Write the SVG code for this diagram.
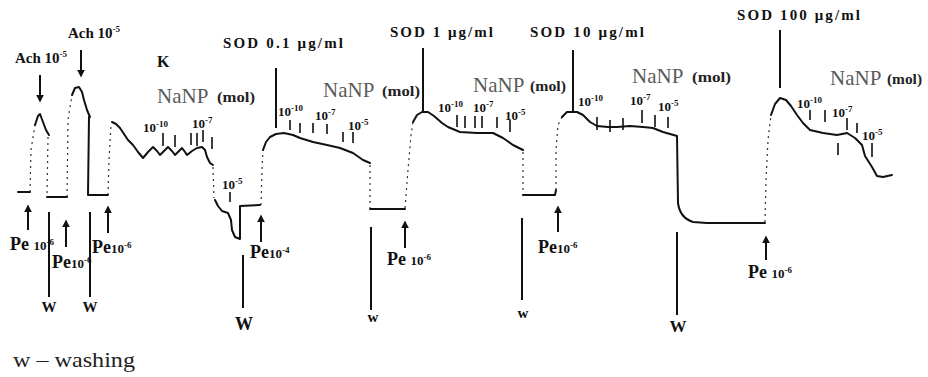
<svg xmlns="http://www.w3.org/2000/svg" width="928" height="377" viewBox="0 0 928 377">
<style>
.b{font-family:"Liberation Serif","Times New Roman",serif;font-weight:bold;fill:#111}
.n{font-family:"Liberation Serif","Times New Roman",serif;fill:#5a5a5a;font-size:21px}
.m{font-family:"Liberation Serif","Times New Roman",serif;font-weight:bold;fill:#222;font-size:15px}
.sod{font-size:15px}
.ex{font-size:13px}
.pe{font-size:18px}
.s{font-size:9px}
.tr{fill:none;stroke:#111;stroke-width:2;stroke-linejoin:round;stroke-linecap:round}
.dt{fill:none;stroke:#333;stroke-width:1.2;stroke-dasharray:2 4}
.tk{stroke:#111;stroke-width:1.6}
.vl{stroke:#111;stroke-width:2}
.ar{stroke:#111;stroke-width:2;marker-end:url(#ah)}
</style>
<defs>
<marker id="ah" viewBox="0 0 10 10" refX="8" refY="5" markerWidth="4" markerHeight="4" orient="auto" markerUnits="strokeWidth">
<path d="M0 0 L10 5 L0 10 z" fill="#111"/>
</marker>
</defs>
<rect width="928" height="377" fill="#fff"/>

<g id="traces">
<path class="tr" d="M18 192 L30 192"/>
<path class="dt" d="M30 192 L31 150 L35 125"/>
<path class="tr" d="M35 125 L38 116 L40 114 L43 122 L46 130 L49 135"/>
<path class="dt" d="M48 137 L47 197"/>
<path class="tr" d="M47 197 L67 197"/>
<path class="dt" d="M67 197 L68 120 L72 95"/>
<path class="tr" d="M72 95 L75 88 L79 87 L82 92 L84 100 L87 110 L90 117"/>
<path class="tr" d="M89 117 L88 195 L108 195"/>
<path class="dt" d="M108 195 L109 160 L111 125"/>
<path class="tr" d="M112 122 L116 124 L120 128 L124 134 L128 140 L133 145 L138 152 L143 158 L148 152 L153 147 L157 151 L160 155 L164 151 L168 147 L172 151 L175 155 L179 151 L182 148 L185 152 L187 155 L192 151 L197 148 L202 147 L205 150 L207 157 L210 163 L213 165"/>
<path class="dt" d="M213 167 L214 198"/>
<path class="tr" d="M215 200 L218 206 L222 211 L228 213 L231 220 L232 230 L235 237 L240 239 L240 206 L260 205"/>
<path class="dt" d="M261 205 L262 170 L263 150"/>
<path class="tr" d="M263 150 L266 142 L270 137 L276 134 L284 133 L293 135 L300 138 L313 142 L327 145 L340 148 L353 153 L363 160 L370 163"/>
<path class="dt" d="M370 165 L370 208"/>
<path class="tr" d="M370 209 L405 209"/>
<path class="dt" d="M405 208 L408 170 L411 135 L413 122"/>
<path class="tr" d="M413 122 L417 115 L422 112 L428 112 L434 116 L442 123 L448 127 L460 132 L477 133 L493 133 L503 138 L513 145 L523 150"/>
<path class="dt" d="M523 152 L523 195"/>
<path class="tr" d="M523 195 L555 195 L556 190"/>
<path class="dt" d="M556 190 L556 150 L558 125 L562 117"/>
<path class="tr" d="M562 117 L567 112 L577 112 L583 115 L590 122 L597 126 L608 127 L617 127 L630 126 L643 127 L653 128 L663 132 L670 134 L677 136 L678 203 Q680 218 693 222 L707 223 L765 223"/>
<path class="dt" d="M765 222 L766 180 L768 140 L771 115"/>
<path class="tr" d="M771 115 L775 104 L780 98 L786 100 L791 106 L797 115 L803 123 L810 130 L823 133 L837 135 L847 133 L855 138 L862 145 L865 156 L872 167 L877 176 L883 177 L892 175"/>
</g>

<g id="ticks">
<path class="tk" d="M163 133 V146 M175 135 V147 M191 133 V145 M197 133 V146 M203 130 V142 M212 137 V149 M230 192 V202"/>
<path class="tk" d="M290 120 V130 M300 123 V133 M313 123 V133 M327 124 V134 M343 132 V142 M353 132 V143"/>
<path class="tk" d="M457 115 V127 M465 116 V128 M475 116 V128 M482 116 V128 M497 117 V128 M510 120 V132"/>
<path class="tk" d="M597 117 V130 M610 120 V132 M623 118 V130 M642 110 V123 M655 115 V127 M668 117 V128"/>
<path class="tk" d="M810 110 V120 M825 110 V122 M847 118 V130 M857 123 V133 M838 143 V155 M872 143 V157"/>
</g>

<g id="sod-lines">
<line class="vl" x1="276" y1="68" x2="276" y2="128"/>
<line class="vl" x1="423" y1="48" x2="423" y2="111"/>
<line class="vl" x1="573" y1="50" x2="573" y2="111"/>
<line class="vl" x1="780" y1="30" x2="780" y2="88"/>
</g>

<g id="ach">
<line class="ar" x1="40" y1="75" x2="40" y2="101"/>
<line class="ar" x1="81" y1="50" x2="81" y2="76"/>
<text class="b" x="15" y="63" font-size="15">Ach 10<tspan class="s" font-size="10" dy="-6">-5</tspan></text>
<text class="b" x="68" y="38" font-size="15">Ach 10<tspan class="s" font-size="10" dy="-6">-5</tspan></text>
</g>

<g id="labels-top">
<text class="b" x="157" y="67" font-size="16">K</text>
<text class="b sod" x="223" y="48" textLength="120" lengthAdjust="spacing">SOD 0.1 μg/ml</text>
<text class="b sod" x="390" y="37" textLength="103" lengthAdjust="spacing">SOD 1 μg/ml</text>
<text class="b sod" x="530" y="37" textLength="114" lengthAdjust="spacing">SOD 10 μg/ml</text>
<text class="b sod" x="737" y="20" textLength="123" lengthAdjust="spacing">SOD 100 μg/ml</text>

<text class="n" x="157" y="103">NaNP</text><text class="m" x="217" y="102" textLength="38" lengthAdjust="spacingAndGlyphs">(mol)</text>
<text class="n" x="323" y="97">NaNP</text><text class="m" x="382" y="96" textLength="38" lengthAdjust="spacingAndGlyphs">(mol)</text>
<text class="n" x="473" y="92">NaNP</text><text class="m" x="530" y="91" textLength="36" lengthAdjust="spacingAndGlyphs">(mol)</text>
<text class="n" x="632" y="83">NaNP</text><text class="m" x="692" y="82" textLength="39" lengthAdjust="spacingAndGlyphs">(mol)</text>
<text class="n" x="830" y="85">NaNP</text><text class="m" x="887" y="84" textLength="35" lengthAdjust="spacingAndGlyphs">(mol)</text>
</g>

<g id="conc">
<text class="b ex" x="143" y="132">10<tspan class="s" dy="-5">-10</tspan></text>
<text class="b ex" x="192" y="128">10<tspan class="s" dy="-5">-7</tspan></text>
<text class="b ex" x="222" y="189">10<tspan class="s" dy="-5">-5</tspan></text>
<text class="b ex" x="278" y="116">10<tspan class="s" dy="-5">-10</tspan></text>
<text class="b ex" x="315" y="120">10<tspan class="s" dy="-5">-7</tspan></text>
<text class="b ex" x="348" y="130">10<tspan class="s" dy="-5">-5</tspan></text>
<text class="b ex" x="438" y="112">10<tspan class="s" dy="-5">-10</tspan></text>
<text class="b ex" x="473" y="112">10<tspan class="s" dy="-5">-7</tspan></text>
<text class="b ex" x="505" y="120">10<tspan class="s" dy="-5">-5</tspan></text>
<text class="b ex" x="578" y="106">10<tspan class="s" dy="-5">-10</tspan></text>
<text class="b ex" x="630" y="105">10<tspan class="s" dy="-5">-7</tspan></text>
<text class="b ex" x="658" y="111">10<tspan class="s" dy="-5">-5</tspan></text>
<text class="b ex" x="797" y="108">10<tspan class="s" dy="-5">-10</tspan></text>
<text class="b ex" x="832" y="117">10<tspan class="s" dy="-5">-7</tspan></text>
<text class="b ex" x="862" y="140">10<tspan class="s" dy="-5">-5</tspan></text>
</g>

<g id="pe">
<line class="ar" x1="28" y1="230" x2="28" y2="206"/>
<line class="ar" x1="66" y1="247" x2="66" y2="221"/>
<line class="ar" x1="108" y1="233" x2="108" y2="207"/>
<line class="ar" x1="261" y1="242" x2="261" y2="216"/>
<line class="ar" x1="405" y1="248" x2="405" y2="222"/>
<line class="ar" x1="558" y1="232" x2="558" y2="207"/>
<line class="ar" x1="766" y1="260" x2="766" y2="237"/>
<text class="b pe" x="10" y="250">Pe <tspan font-size="13">10</tspan><tspan class="s" dy="-5">-6</tspan></text>
<text class="b pe" x="52" y="268">Pe<tspan font-size="13">10</tspan><tspan class="s" dy="-5">-6</tspan></text>
<text class="b pe" x="92" y="253">Pe<tspan font-size="13">10</tspan><tspan class="s" dy="-5">-6</tspan></text>
<text class="b pe" x="250" y="258">Pe<tspan font-size="13">10</tspan><tspan class="s" dy="-5">-4</tspan></text>
<text class="b pe" x="387" y="265">Pe <tspan font-size="13">10</tspan><tspan class="s" dy="-5">-6</tspan></text>
<text class="b pe" x="538" y="253">Pe<tspan font-size="13">10</tspan><tspan class="s" dy="-5">-6</tspan></text>
<text class="b pe" x="748" y="278">Pe <tspan font-size="13">10</tspan><tspan class="s" dy="-5">-6</tspan></text>
</g>

<g id="washing">
<line class="vl" x1="49" y1="212" x2="49" y2="297"/>
<line class="vl" x1="90" y1="212" x2="90" y2="297"/>
<line class="vl" x1="243" y1="255" x2="243" y2="308"/>
<line class="vl" x1="371" y1="227" x2="371" y2="310"/>
<line class="vl" x1="522" y1="218" x2="522" y2="300"/>
<line class="vl" x1="677" y1="232" x2="677" y2="315"/>
<text class="b" x="49" y="312" font-size="15" text-anchor="middle">W</text>
<text class="b" x="90" y="312" font-size="15" text-anchor="middle">W</text>
<text class="b" x="244" y="330" font-size="18" text-anchor="middle">W</text>
<text class="b" x="373" y="322" font-size="15" text-anchor="middle">w</text>
<text class="b" x="523" y="318" font-size="15" text-anchor="middle">w</text>
<text class="b" x="678" y="332" font-size="17" text-anchor="middle">W</text>
</g>

<text x="13" y="367" font-family="'Liberation Serif','Times New Roman',serif" font-size="21" fill="#222" textLength="122" lengthAdjust="spacingAndGlyphs">w – washing</text>
</svg>
